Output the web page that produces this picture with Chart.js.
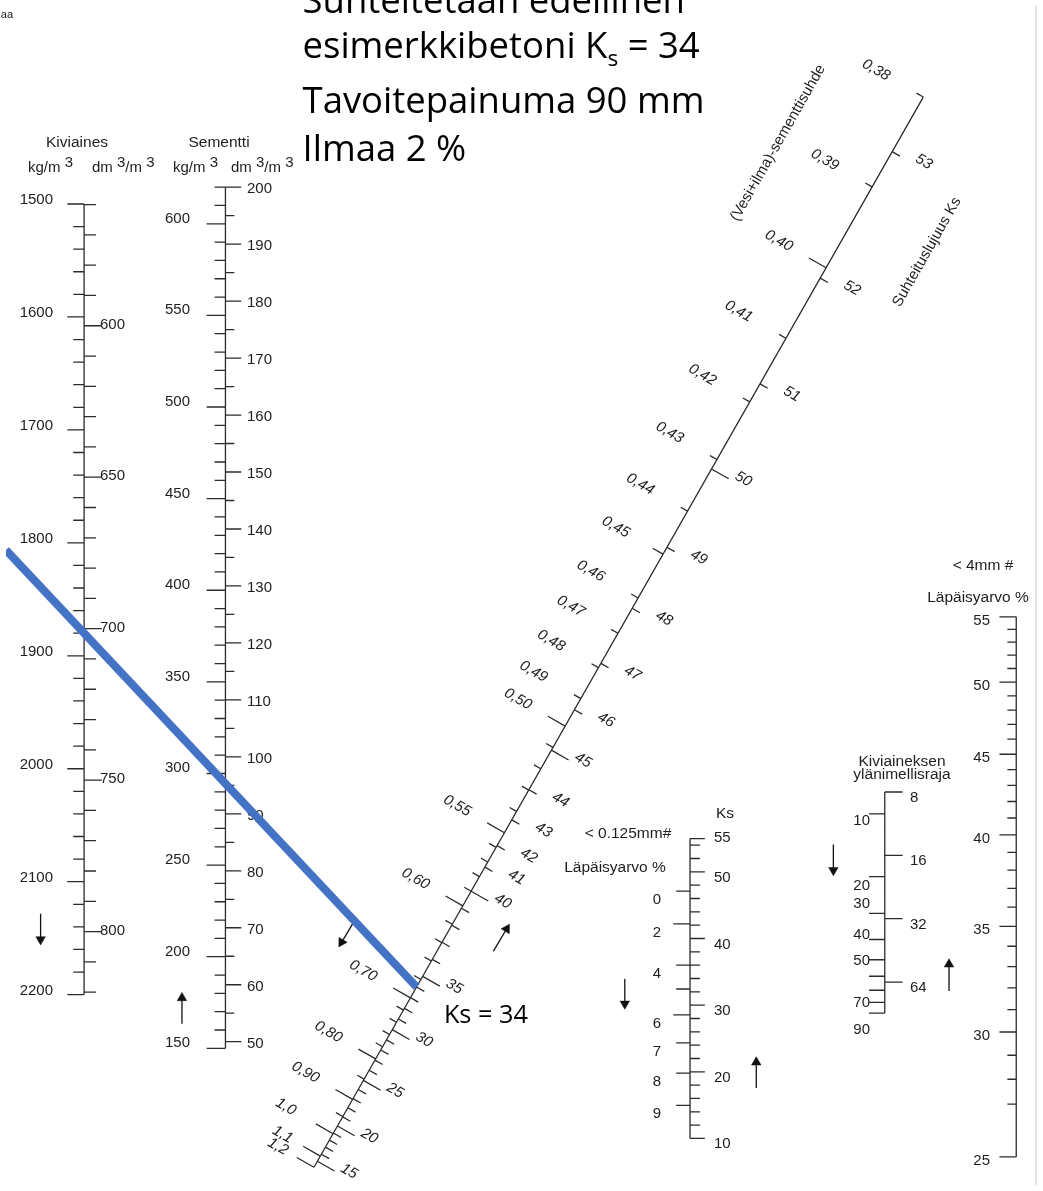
<!DOCTYPE html>
<html><head><meta charset="utf-8">
<script src="https://cdn.jsdelivr.net/npm/chart.js@4.4.1/dist/chart.umd.min.js"></script>
<style>html,body{margin:0;padding:0;background:#fff;overflow:hidden}canvas{display:block}</style>
</head><body>
<canvas id="c" width="1043" height="1191"></canvas>
<script>
// ================= DATA =================
const headlineLines = ["Suhteitetaan edellinen", "esimerkkibetoni K_s = 34", "Tavoitepainuma 90 mm", "Ilmaa 2 %"];
const readingLabel = "Ks = 34";
const readKs = 34;              // strength read on the diagonal scale
const readAggKg = 1880;         // aggregate kg/m3 crossed by the reading line

// Kiviaines (aggregate) scale
const aggKgLabels = [1500, 1600, 1700, 1800, 1900, 2000, 2100, 2200];
const aggKgStep = 20;
const aggDmLabels = [600, 650, 700, 750, 800];
const aggDmRange = [560, 820], aggDmStep = 10;

// Sementti (cement) scale
const cemKgLabels = [150, 200, 250, 300, 350, 400, 450, 500, 550, 600];
const cemKgRange = [150, 620], cemKgStep = 10;
const cemDmLabels = [50, 60, 70, 80, 90, 100, 110, 120, 130, 140, 150, 160, 170, 180, 190, 200];
const cemDmStep = 5;

// Diagonal: (Vesi+ilma)-sementtisuhde  and  Suhteituslujuus Ks
const wcValues = [0.38, 0.39, 0.40, 0.41, 0.42, 0.43, 0.44, 0.45, 0.46, 0.47, 0.48, 0.49, 0.50, 0.55, 0.60, 0.70, 0.80, 0.90, 1.0, 1.1, 1.2];
const wcLabels = ["0,38","0,39","0,40","0,41","0,42","0,43","0,44","0,45","0,46","0,47","0,48","0,49","0,50","0,55","0,60","0,70","0,80","0,90","1,0","1,1","1,2"];
const wcMajor = [0.40, 0.50, 0.55, 0.60, 0.70, 0.80, 0.90, 1.0, 1.1, 1.2];
const wcMinor = [0.51, 0.52, 0.53, 0.54, 0.56, 0.57, 0.58, 0.59, 0.62, 0.64, 0.66, 0.68, 0.72, 0.74, 0.76, 0.78, 0.85, 0.95];
const ksDiagRange = [15, 53];
const ksDiagLabels = [15, 20, 25, 30, 35, 40, 41, 42, 43, 44, 45, 46, 47, 48, 49, 50, 51, 52, 53];
const ksDiagMajor = [15, 20, 25, 30, 35, 40, 45, 50];

// < 0.125 mm # scale
const finesKsLabels = [10, 20, 30, 40, 50, 55];
const finesKsTicks = [10,12,14,16,18,20,22,24,26,28,30,32,34,36,38,40,42,44,46,48,50,52,54,55];
const finesPassTicks = [0, 2, 4, 5, 6, 7, 8, 9];
const finesPassLabels = [0, 2, 4, 6, 7, 8, 9];

// Kiviaineksen ylänimellisraja
const kiviRightLabels = [8, 16, 32, 64];
const kiviLeftTicks = [10, 20, 30, 40, 50, 60, 70, 80, 90];
const kiviLeftLabels = [10, 20, 30, 40, 50, 70, 90];

// < 4 mm # scale
const coarseLabels = [25, 30, 35, 40, 45, 50, 55];
const coarseTicks = [25,27,28,29,30,31,32,33,34,35,36,37,38,39,40,41,42,43,44,45,46,47,48,49,50,51,52,53,54,55];

// ================= LAYOUT (scale geometry, paper units = px) =================
const INK = '#2b2b2b', TXT = '#1e1e1e', BLUE = '#4472C4';
const SANS = '"Liberation Sans", Arial, Helvetica, sans-serif';
const agg = { x: 79, kgY0: 200, kgV0: 1500, kgK: 1.141, dmY0: 323, dmV0: 600, dmK: 3.06 };
const cem = { x: 222, kgY0: 220, kgV0: 600, kgK: 1.851, dmY0: 183, dmV0: 200, dmK: 5.755 };
const dg = { x0: 315, y0: 1167, ux: 0.4953, uy: -0.8687, sMin: -7, sMax: 1237.5 };
const ksDiagPos = [[15,0],[20,41],[25,94],[30,153],[35,215],[40,314],[41,342],[42,367],[43,397],[44,432],[45,478],[46,525],[47,579],[48,643],[49,714],[50,805],[51,904],[52,1027],[53,1174]];
const wcDiagPos = [[0.38,1237.5],[0.39,1133],[0.40,1039],[0.41,957],[0.42,883],[0.43,816],[0.44,756],[0.45,706],[0.46,655],[0.47,614],[0.48,574],[0.49,538],[0.50,506],[0.55,382],[0.60,297],[0.70,190],[0.80,119],[0.90,72],[1.0,32],[1.1,6],[1.2,-7]];
const wcLabelDist = v => (v === 1.1 ? 44 : v === 1.2 ? 42 : 55);
const fines = { x: 692, y55: 841, k: 6.733 };
const kivi = { x: 889, rY8: 794, rK: 64, lY10: 816, lK: 63.5 };
const coarse = { x: 1022, y55: 617, k: 692 };

const range = (a, b, st) => { const o = []; for (let v = a; v <= b + 1e-9; v += st) o.push(Math.round(v * 1000) / 1000); return o; };
function interp(tbl, v) {
  for (let i = 0; i < tbl.length - 1; i++) {
    const [a, sa] = tbl[i], [b, sb] = tbl[i + 1];
    if (v >= a && v <= b) return sa + (sb - sa) * (v - a) / (b - a);
  }
  const [a, sa] = tbl[tbl.length - 2], [b, sb] = tbl[tbl.length - 1];
  return sa + (sb - sa) * (v - a) / (b - a);
}
const aggKg = v => ({ x: agg.x, y: agg.kgY0 + (v - agg.kgV0) * agg.kgK });
const aggDm = v => ({ x: agg.x, y: agg.dmY0 + (v - agg.dmV0) * agg.dmK });
const cemKg = v => ({ x: cem.x, y: cem.kgY0 + (cem.kgV0 - v) * cem.kgK });
const cemDm = v => ({ x: cem.x, y: cem.dmY0 + (cem.dmV0 - v) * cem.dmK });
const diag = s => ({ x: dg.x0 + dg.ux * s, y: dg.y0 + dg.uy * s });
const nrm = { x: -dg.uy, y: dg.ux };            // normal pointing down-right
const ksPt = v => diag(interp(ksDiagPos, v));
const wcPt = v => diag(interp(wcDiagPos, v));
const finesKs = v => ({ x: fines.x, y: fines.y55 + (55 - v) * fines.k });
const finesPass = p => finesKs(47.1 - 2.14 * p - 0.159 * p * p);
const kiviR = v => ({ x: kivi.x, y: kivi.rY8 + kivi.rK * Math.log2(v / 8) });
const kiviL = v => ({ x: kivi.x, y: kivi.lY10 + kivi.lK * Math.log2(v / 10) });
const coarsePt = v => ({ x: coarse.x, y: coarse.y55 + coarse.k * Math.log(55 / v) });

// ================= build line work =================
const ink = [];
const seg = (a, b) => ink.push({ x: a.x, y: a.y }, { x: b.x, y: b.y }, { x: null, y: null });
const off = (p, dx, dy) => ({ x: p.x + dx, y: p.y + dy });

// Kiviaines
seg(aggKg(aggKgLabels[0]), aggKg(aggKgLabels[aggKgLabels.length - 1]));
range(aggKgLabels[0], aggKgLabels[aggKgLabels.length - 1], aggKgStep).forEach(v => { const p = aggKg(v); seg(p, off(p, aggKgLabels.includes(v) ? -17 : -11, 0)); });
range(aggDmRange[0], aggDmRange[1], aggDmStep).forEach(v => { const p = aggDm(v); seg(p, off(p, aggDmLabels.includes(v) ? 18 : 12, 0)); });
// Sementti
seg(cemKg(cemKgRange[1]), cemKg(cemKgRange[0]));
range(cemKgRange[0], cemKgRange[1], cemKgStep).forEach(v => { const p = cemKg(v); seg(p, off(p, cemKgLabels.includes(v) ? -19 : -11, 0)); });
range(cemDmLabels[0], cemDmLabels[cemDmLabels.length - 1], cemDmStep).forEach(v => { const p = cemDm(v); seg(p, off(p, cemDmLabels.includes(v) ? 16 : 9, 0)); });
// Diagonal
seg(diag(dg.sMin), diag(dg.sMax));
range(ksDiagRange[0], ksDiagRange[1], 1).forEach(v => { const p = ksPt(v); const L = ksDiagMajor.includes(v) ? 20 : 9; seg(p, off(p, nrm.x * L, nrm.y * L)); });
wcValues.concat(wcMinor).forEach(v => { const p = wcPt(v); const L = wcMajor.includes(v) ? 20 : (v === 0.45 ? 12 : 8); seg(p, off(p, -nrm.x * L, -nrm.y * L)); });
// fines
seg(finesKs(55), finesKs(10));
finesKsTicks.forEach(v => { const p = finesKs(v); seg(p, off(p, finesKsLabels.includes(v) ? 15 : 10, 0)); });
finesPassTicks.forEach(v => { const p = finesPass(v); seg(p, off(p, (v === 2 || v === 6) ? -17 : -14, 0)); });
// Kiviaineksen ylänimellisraja
seg(kiviR(8), kiviL(90));
kiviRightLabels.forEach(v => { const p = kiviR(v); seg(p, off(p, 18, 0)); });
kiviLeftTicks.forEach(v => { const p = kiviL(v); seg(p, off(p, -16, 0)); });
// < 4mm
seg(coarsePt(55), coarsePt(25));
coarseTicks.forEach(v => { const p = coarsePt(v); seg(p, off(p, coarseLabels.includes(v) ? -17 : -9, 0)); });

// arrows (annotation layout): [tail, tip]
const arrows = [
  [{x:35,y:917},{x:35,y:948}], [{x:178,y:1028},{x:178,y:997}],
  [{x:352,y:925},{x:337,y:950}], [{x:493,y:955},{x:509,y:928}],
  [{x:626,y:983},{x:626,y:1013}], [{x:759,y:1093},{x:759,y:1062}],
  [{x:837,y:847},{x:837,y:878}], [{x:954,y:995},{x:954,y:963}]
];
const shafts = [], heads = [], headRot = [];
arrows.forEach(([a, b]) => {
  const dx = b.x - a.x, dy = b.y - a.y, len = Math.hypot(dx, dy), ux = dx / len, uy = dy / len;
  shafts.push(a, { x: b.x - ux * 6, y: b.y - uy * 6 }, { x: null, y: null });
  heads.push({ x: b.x - ux * 5, y: b.y - uy * 5 });
  headRot.push(Math.atan2(ux, -uy) * 180 / Math.PI);
});

// reading line
const A = aggKg(readAggKg), B = ksPt(readKs);
const slope = (B.y - A.y) / (B.x - A.x);
const blueLine = [{ x: 0, y: A.y - A.x * slope }, { x: B.x, y: B.y }];

// ================= text plugin =================
function put(ctx, str, x, y, font, align, rot, base) {
  ctx.save();
  ctx.font = font; ctx.fillStyle = TXT; ctx.textAlign = align || 'left'; ctx.textBaseline = base || 'alphabetic';
  ctx.translate(x, y); if (rot) ctx.rotate(rot);
  ctx.fillText(str, 0, 0); ctx.restore();
}
function runs(ctx, x, y, parts, font) {
  ctx.save(); ctx.font = font; ctx.fillStyle = TXT; ctx.textAlign = 'left'; ctx.textBaseline = 'alphabetic';
  let cx = x;
  for (const [t, dy] of parts) { ctx.fillText(t, cx, y + dy); cx += ctx.measureText(t).width; }
  ctx.restore();
}
const textPlugin = {
  id: 'nomoText',
  beforeDatasetsDraw(chart) {
    const ctx = chart.ctx, xs = chart.scales.x, ys = chart.scales.y;
    const P = p => ({ x: xs.getPixelForValue(p.x), y: ys.getPixelForValue(p.y) });
    const F15 = '15px ' + SANS, F155 = '15.5px ' + SANS, FI = 'italic 15px ' + SANS;

    // headline (fitted Calibri-like text)
    ctx.save();
    ctx.font = '40px "Open Sans"';
    const hs = 40 * 402 / ctx.measureText(headlineLines[2]).width;
    const HF = hs + 'px "Open Sans"', HFs = (hs * 0.62) + 'px "Open Sans"';
    const baselines = [7, 53, 108, 157];
    headlineLines.forEach((ln, i) => {
      const p = P({ x: 300, y: baselines[i] });
      if (ln.includes('_')) {
        const [pre, rest] = ln.split('_');
        const sub = rest[0], post = rest.slice(1);
        ctx.font = HF; ctx.fillStyle = '#000'; ctx.textBaseline = 'alphabetic'; ctx.textAlign = 'left';
        ctx.fillText(pre, p.x, p.y); let cx = p.x + ctx.measureText(pre).width;
        ctx.font = HFs; ctx.fillText(sub, cx, p.y + hs * 0.2); cx += ctx.measureText(sub).width;
        ctx.font = HF; ctx.fillText(post, cx, p.y);
      } else {
        ctx.font = HF; ctx.fillStyle = '#000'; ctx.textAlign = 'left'; ctx.textBaseline = 'alphabetic';
        ctx.fillText(ln, p.x, p.y);
      }
    });
    ctx.font = '24px "Open Sans"';
    const ks = 24 * 84 / ctx.measureText(readingLabel).width;
    ctx.font = ks + 'px "Open Sans"'; ctx.fillStyle = '#000';
    const rp = P({ x: 443, y: 1027 }); ctx.fillText(readingLabel, rp.x, rp.y);
    ctx.restore();
    put(ctx, 'Ilmaa', 13, 18, '11px ' + SANS, 'right');

    // Kiviaines
    put(ctx, 'Kiviaines', 77, 147, F155, 'center');
    runs(ctx, 28, 172, [['kg/m ', 0], ['3', -5]], F15);
    runs(ctx, 92, 172, [['dm ', 0], ['3', -5], ['/m ', 0], ['3', -5]], F15);
    aggKgLabels.forEach(v => { const p = P(aggKg(v)); put(ctx, String(v), 53, p.y, F15, 'right'); });
    aggDmLabels.forEach(v => { const p = P(aggDm(v)); put(ctx, String(v), 100, p.y + 3, F15, 'left'); });
    // Sementti
    put(ctx, 'Sementti', 219, 147, F155, 'center');
    runs(ctx, 173, 172, [['kg/m ', 0], ['3', -5]], F15);
    runs(ctx, 231, 172, [['dm ', 0], ['3', -5], ['/m ', 0], ['3', -5]], F15);
    cemKgLabels.forEach(v => { const p = P(cemKg(v)); put(ctx, String(v), 190, p.y - 1, F15, 'right'); });
    cemDmLabels.forEach(v => { const p = P(cemDm(v)); put(ctx, String(v), 247, p.y + 6, F15, 'left'); });

    // Diagonal
    const rotL = Math.atan2(nrm.y, nrm.x);
    const rotT = Math.atan2(dg.uy, dg.ux);
    wcValues.forEach((v, i) => {
      const q = wcPt(v), d = wcLabelDist(v);
      const p = P({ x: q.x - nrm.x * d, y: q.y - nrm.y * d });
      put(ctx, wcLabels[i], p.x, p.y, FI, 'center', rotL, 'middle');
    });
    ksDiagLabels.forEach(v => {
      const s = interp(ksDiagPos, v) + 7; const q = diag(s);
      const p = P({ x: q.x + nrm.x * 33, y: q.y + nrm.y * 33 });
      put(ctx, String(v), p.x, p.y, FI, 'center', rotL, 'middle');
    });
    put(ctx, '(Vesi+ilma)-sementtisuhde', 778, 143, F15, 'center', rotT, 'middle');
    put(ctx, 'Suhteituslujuus Ks', 927, 252, F15, 'center', rotT, 'middle');

    // fines scale
    put(ctx, 'Ks', 725, 818, F155, 'center');
    put(ctx, '< 0.125mm#', 628, 838, F155, 'center');
    put(ctx, 'Läpäisyarvo %', 615, 872, F155, 'center');
    finesKsLabels.forEach(v => { const p = P(finesKs(v)); put(ctx, String(v), 714, p.y + (v === 55 ? 3 : 10), F15, 'left'); });
    finesPassLabels.forEach(v => { const p = P(finesPass(v)); put(ctx, String(v), 661, p.y + 13, F15, 'right'); });

    // Kiviaineksen ylänimellisraja
    put(ctx, 'Kiviaineksen', 902, 766, F155, 'center');
    put(ctx, 'ylänimellisraja', 902, 779, F155, 'center');
    kiviRightLabels.forEach(v => { const p = P(kiviR(v)); put(ctx, String(v), 910, p.y + 10, F15, 'left'); });
    const kiviDy = [6, 8, -10, -5, 0, 12, 16];
    kiviLeftLabels.forEach((v, i) => { const p = P(kiviL(v)); put(ctx, String(v), 870, p.y + kiviDy[i] + 5, F15, 'right'); });

    // < 4mm scale
    put(ctx, '< 4mm #', 983, 570, F155, 'center');
    put(ctx, 'Läpäisyarvo %', 978, 602, F155, 'center');
    coarseLabels.forEach(v => { const p = P(coarsePt(v)); put(ctx, String(v), 990, p.y + 8, F15, 'right'); });
  }
};

// ================= chart =================
const line = (data, color, width) => ({ data, showLine: true, borderColor: color, borderWidth: width, pointRadius: 0, pointHoverRadius: 0, spanGaps: false, fill: false, tension: 0 });
const chart = new Chart(document.getElementById('c'), {
  type: 'scatter',
  data: {
    datasets: [
      Object.assign(line(blueLine, BLUE, 8), { borderCapStyle: 'butt' }),
      { data: heads, showLine: false, pointStyle: 'triangle', pointRadius: 5.5, pointRotation: headRot, pointBackgroundColor: '#111', pointBorderColor: '#111', pointBorderWidth: 0.5 },
      line(shafts, '#111', 1.3),
      line(ink, INK, 1.3),
      line([{ x: 1042, y: 0 }, { x: 1042, y: 1191 }], '#dcdcdc', 1.5)
    ]
  },
  options: {
    responsive: false, animation: false, devicePixelRatio: 1,
    layout: { padding: 0 },
    events: [],
    scales: {
      x: { type: 'linear', min: 0, max: 1043, display: false },
      y: { type: 'linear', min: 0, max: 1191, reverse: true, display: false }
    },
    plugins: { legend: { display: false }, tooltip: { enabled: false } }
  },
  plugins: [textPlugin]
});
</script>
</body></html>
